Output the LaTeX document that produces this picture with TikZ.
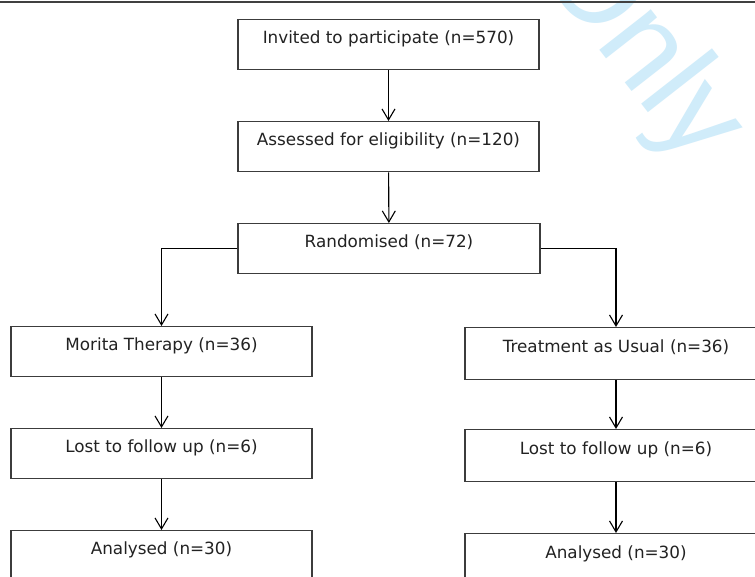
\documentclass[tikz,border=0pt]{standalone}
\usepackage{fontspec}
\setmainfont{DejaVu Sans}
\newfontfamily\wmfont{Liberation Sans}
\usetikzlibrary{arrows.meta}
\definecolor{wmcolor}{RGB}{208,236,250}
\definecolor{boxcol}{RGB}{60,60,60}
\definecolor{txtcol}{RGB}{34,34,34}
\tikzset{
  flowbox/.style={draw=boxcol, line width=1.3pt, inner sep=0pt, minimum width=301pt,
    text height=24pt, text depth=26pt, anchor=north, text=txtcol,
    font=\fontsize{16.8}{20}\selectfont},
  flowboxr/.style={flowbox, minimum width=302pt, text height=25pt, text depth=27pt},
  conn/.style={draw=black, line width=1.1pt, -{Straight Barb[length=11pt,width=13pt,line width=1.1pt]}},
}
\begin{document}
\begin{tikzpicture}[x=1pt,y=-1pt]
\useasboundingbox (0,0) rectangle (755,577);
\clip (0,0) rectangle (755,577);
\fill[white] (0,0) rectangle (755,577);
\node[rotate=-52, anchor=base west, inner sep=0pt, text=wmcolor,
  font=\wmfont\fontsize{124}{124}\selectfont] (wm) at (535,-33) {Only};
\draw[line width=2pt, draw=black!75] (0,2) -- (755,2);
\node[flowbox] (inv) at (388.5,19) {Invited to participate (n=570)};
\node[flowbox] (ass) at (388.5,121) {Assessed for eligibility (n=120)};
\node[flowbox, minimum width=302pt] (ran) at (389,223) {Randomised (n=72)};
\node[flowbox] (mt) at (161.5,326) {Morita Therapy (n=36)};
\node[flowbox] (ml) at (161.5,428) {Lost to follow up (n=6)};
\node[flowbox] (ma) at (161.5,530) {Analysed (n=30)};
\node[flowboxr] (tt) at (616,327) {Treatment as Usual (n=36)};
\node[flowboxr] (tl) at (616,429) {Lost to follow up (n=6)};
\node[flowboxr] (ta) at (616,533) {Analysed (n=30)};
\draw[conn] (inv) -- (ass);
\draw[conn] (ass) -- (ran);
\draw[conn] (ran.west) -| (mt.north);
\draw[conn] (ran.east) -| (tt.north);
\draw[conn] (mt) -- (ml);
\draw[conn] (ml) -- (ma);
\draw[conn] (tt) -- (tl);
\draw[conn] (tl) -- (ta);
\end{tikzpicture}
\end{document}
